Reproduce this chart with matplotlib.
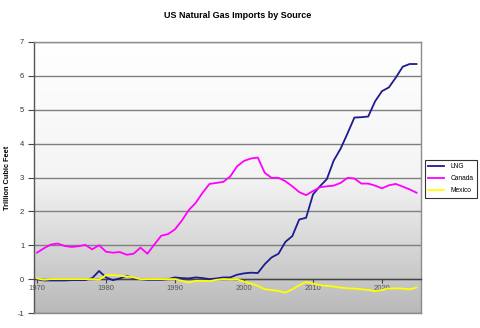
import numpy as np
import matplotlib
matplotlib.use("Agg")
import matplotlib.pyplot as plt
from matplotlib.colors import LinearSegmentedColormap

plt.rcParams['font.family'] = ['Liberation Sans', 'DejaVu Sans']

years = list(range(1970, 2026))

lng = [0.00, -0.04, -0.04, -0.04, -0.04, -0.03, -0.03, -0.03, 0.03, 0.24,
       0.05, -0.03, 0.02, 0.10, 0.02, 0.00, -0.02, -0.02, -0.02, 0.00,
       0.05, 0.03, 0.02, 0.05, 0.03, 0.00, 0.02, 0.05, 0.05, 0.13,
       0.17, 0.19, 0.18, 0.44, 0.64, 0.75, 1.10, 1.27, 1.76, 1.81,
       2.50, 2.74, 2.95, 3.50, 3.85, 4.30, 4.77, 4.78, 4.80, 5.25,
       5.55, 5.66, 5.95, 6.27, 6.35, 6.35]

canada = [0.78, 0.91, 1.02, 1.05, 0.98, 0.95, 0.97, 1.01, 0.88, 1.00,
          0.81, 0.78, 0.80, 0.72, 0.75, 0.93, 0.75, 1.02, 1.28, 1.33,
          1.47, 1.73, 2.04, 2.25, 2.55, 2.81, 2.84, 2.87, 3.03, 3.33,
          3.49, 3.56, 3.59, 3.14, 2.99, 2.99, 2.89, 2.74, 2.57, 2.48,
          2.60, 2.71, 2.74, 2.76, 2.84, 2.99, 2.97, 2.82, 2.82, 2.76,
          2.68, 2.77, 2.81, 2.73, 2.65, 2.55]

mexico = [0.02, -0.02, 0.00, 0.00, 0.00, 0.00, 0.00, 0.00, 0.00, -0.02,
          0.12, 0.12, 0.10, 0.08, 0.05, 0.00, 0.00, 0.00, 0.00, 0.00,
          0.00, -0.05, -0.10, -0.05, -0.05, -0.06, -0.02, 0.00, -0.01, 0.00,
          -0.08, -0.13, -0.20, -0.30, -0.32, -0.35, -0.40, -0.30, -0.18, -0.08,
          -0.13, -0.18, -0.20, -0.22, -0.25, -0.27, -0.28, -0.30, -0.32, -0.35,
          -0.32, -0.28, -0.27, -0.28, -0.30, -0.25]

series_names = ['LNG', 'Canada', 'Mexico']
series_colors = ['#1c1c8e', '#ff00ff', '#ffff00']
yticks = list(range(-1, 8))
xticks = [1970, 1980, 1990, 2000, 2010, 2020]

fig = plt.figure(figsize=(4.8, 3.28), dpi=100)
fig.patch.set_facecolor('white')
ax = fig.add_axes([34/480, 15/328, 387/480, 271/328])
ax.set_facecolor('none')

x0, x1 = 1969.57, 2025.65

# gradient background: white at top, grey at bottom
grad = np.linspace(1, 0, 256).reshape(-1, 1)
cmap = LinearSegmentedColormap.from_list('bg', ['#ffffff', '#f4f4f4', '#b9b9b9'])
ax.imshow(grad, extent=[x0, x1, -1, 7], aspect='auto', cmap=cmap,
          origin='lower', zorder=0, interpolation='bilinear')
ax.set_xlim(x0, x1)
ax.set_ylim(-1, 7)

for v in yticks:
    ax.axhline(v, color='#7f7f7f', lw=1.0, zorder=1)

for vals, name, col in zip([lng, canada, mexico], series_names, series_colors):
    ax.plot(years, vals, color=col, lw=1.3, label=name, zorder=3)

for s in ['top', 'right']:
    ax.spines[s].set_color('#8c8c8c')
    ax.spines[s].set_linewidth(1.0)
ax.spines['left'].set_color('#555555')
ax.spines['left'].set_linewidth(1.0)
ax.spines['bottom'].set_position(('data', 0))
ax.spines['bottom'].set_color('#444444')
ax.spines['bottom'].set_linewidth(1.0)
ax.plot([0, 1], [0, 0], transform=ax.transAxes, color='#8c8c8c', lw=1.0,
        clip_on=False, zorder=4)

ax.set_yticks(yticks)
ax.set_yticklabels([str(v) for v in yticks])
ax.set_xticks(xticks)
ax.set_xticklabels([str(v) for v in xticks])
ax.tick_params(axis='y', direction='out', length=4, width=0.8, colors='#444444',
               labelsize=5.5, pad=3, labelcolor='#333333')
ax.tick_params(axis='x', direction='out', length=3, width=0.8, colors='#444444',
               labelsize=5.5, pad=1.5, labelcolor='#555555')

ax.set_ylabel('Trillion Cubic Feet', fontsize=5.3, fontweight='bold', labelpad=5)

fig.text(238/480, 1 - 16/328, 'US Natural Gas Imports by Source', ha='center',
         va='center', fontsize=6.5, fontweight='bold')

leg = fig.legend(loc='upper left', bbox_to_anchor=(425/480, 1 - 160/328),
                 fontsize=4.8, frameon=True, fancybox=False, handlelength=2.4,
                 handletextpad=0.9, borderpad=0.5, labelspacing=0.75,
                 borderaxespad=0)
leg.get_frame().set_edgecolor('#000000')
leg.get_frame().set_linewidth(0.8)

fig.savefig('out.png', dpi=100, facecolor='white')
